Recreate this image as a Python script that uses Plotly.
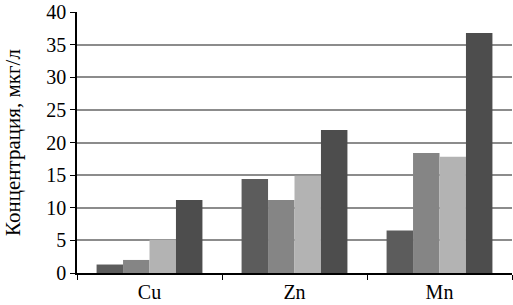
import plotly.graph_objects as go

categories = ["Cu", "Zn", "Mn"]
series1 = [1.3, 14.4, 6.5]
series2 = [2.0, 11.2, 18.4]
series3 = [5.1, 14.9, 17.8]
series4 = [11.2, 21.9, 36.8]
colors = ["#5c5c5c", "#858585", "#b3b3b3", "#4d4d4d"]
y_ticks = [0, 5, 10, 15, 20, 25, 30, 35, 40]

FONT = "Liberation Serif"

fig = go.Figure()
for vals, col in zip([series1, series2, series3, series4], colors):
    fig.add_trace(go.Bar(x=categories, y=vals, marker=dict(color=col, line=dict(width=0))))

fig.update_layout(
    width=513, height=305,
    margin=dict(l=77, r=1, t=7, b=32),
    paper_bgcolor="white", plot_bgcolor="white",
    barmode="group", bargap=0.27, bargroupgap=0,
    showlegend=False,
    font=dict(family=FONT, size=20, color="black"),
)
fig.update_xaxes(
    showline=True, linecolor="black", linewidth=1.5,
    ticks="outside", tickson="boundaries", ticklen=5, tickcolor="black",
    showgrid=False, tickfont=dict(family=FONT, size=20, color="black"),
)
fig.update_yaxes(
    range=[0, 40], tickvals=y_ticks, ticktext=[str(v) for v in y_ticks],
    ticklabeloverflow="allow",
    showline=True, linecolor="black", linewidth=1.5,
    ticks="outside", ticklen=5, tickcolor="black",
    showgrid=True, gridcolor="#8c8c8c", gridwidth=1.5,
    zeroline=False,
    title=dict(text="Концентрация, мкг/л", font=dict(family=FONT, size=21), standoff=20),
    tickfont=dict(family=FONT, size=20, color="black"),
)
fig.write_html("out.html", config={"displayModeBar": False},
               post_script="document.body.style.margin='0';document.body.style.overflow='hidden';")
